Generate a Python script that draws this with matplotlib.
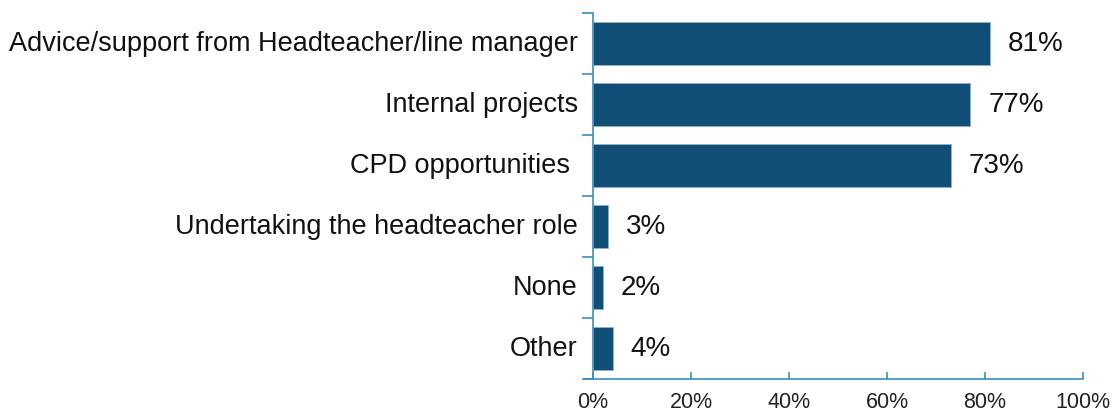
import matplotlib
import matplotlib.pyplot as plt
import numpy as np

matplotlib.use("Agg")

categories = [
    "Advice/support from Headteacher/line manager",
    "Internal projects",
    "CPD opportunities ",
    "Undertaking the headteacher role",
    "None",
    "Other",
]
values = [81, 77, 73, 3, 2, 4]
xticks = [0, 20, 40, 60, 80, 100]

bar_color = "#114E75"
axis_color = "#3A8FBF"

plt.rcParams["font.family"] = ["Liberation Sans", "DejaVu Sans"]

fig = plt.figure(figsize=(11.19, 4.14), dpi=100, facecolor="white")
ax = fig.add_axes([593 / 1119, 1 - 380 / 414, 490 / 1119, 366 / 414])

y = np.arange(len(categories))
bars = ax.barh(y, values, height=0.7, color=bar_color, edgecolor="#8FB3CC", linewidth=0.6)
ax.set_ylim(len(categories) - 0.5, -0.5)
ax.set_xlim(0, 100)

ax.set_xticks(xticks, [f"{t}%" for t in xticks], fontsize=15.5, color="#222222")
ax.tick_params(axis="x", direction="in", length=5, color=axis_color, width=1.2, pad=9)

# y ticks sit on the category boundaries, labels centred on the bars
ax.set_yticks(np.arange(len(categories) + 1) - 0.5)
ax.set_yticklabels([])
ax.tick_params(axis="y", direction="out", length=8, color=axis_color, width=1.2)
for i, name in enumerate(categories):
    ax.annotate(name, (0, i), xytext=(-11, 0), textcoords="offset points",
                xycoords=("axes fraction", "data"), ha="right", va="center",
                fontsize=19.5, color="#111111")

for s in ["top", "right"]:
    ax.spines[s].set_visible(False)
for s in ["left", "bottom"]:
    ax.spines[s].set_color(axis_color)
    ax.spines[s].set_linewidth(1.2)
ax.spines["bottom"].set_bounds(-1.6, 100)

for bar, v in zip(bars, values):
    ax.annotate(f"{v}%", (v, bar.get_y() + bar.get_height() / 2), xytext=(13, 0),
                textcoords="offset points", ha="left", va="center",
                fontsize=20, color="#111111")

fig.savefig("out.png", dpi=100)
